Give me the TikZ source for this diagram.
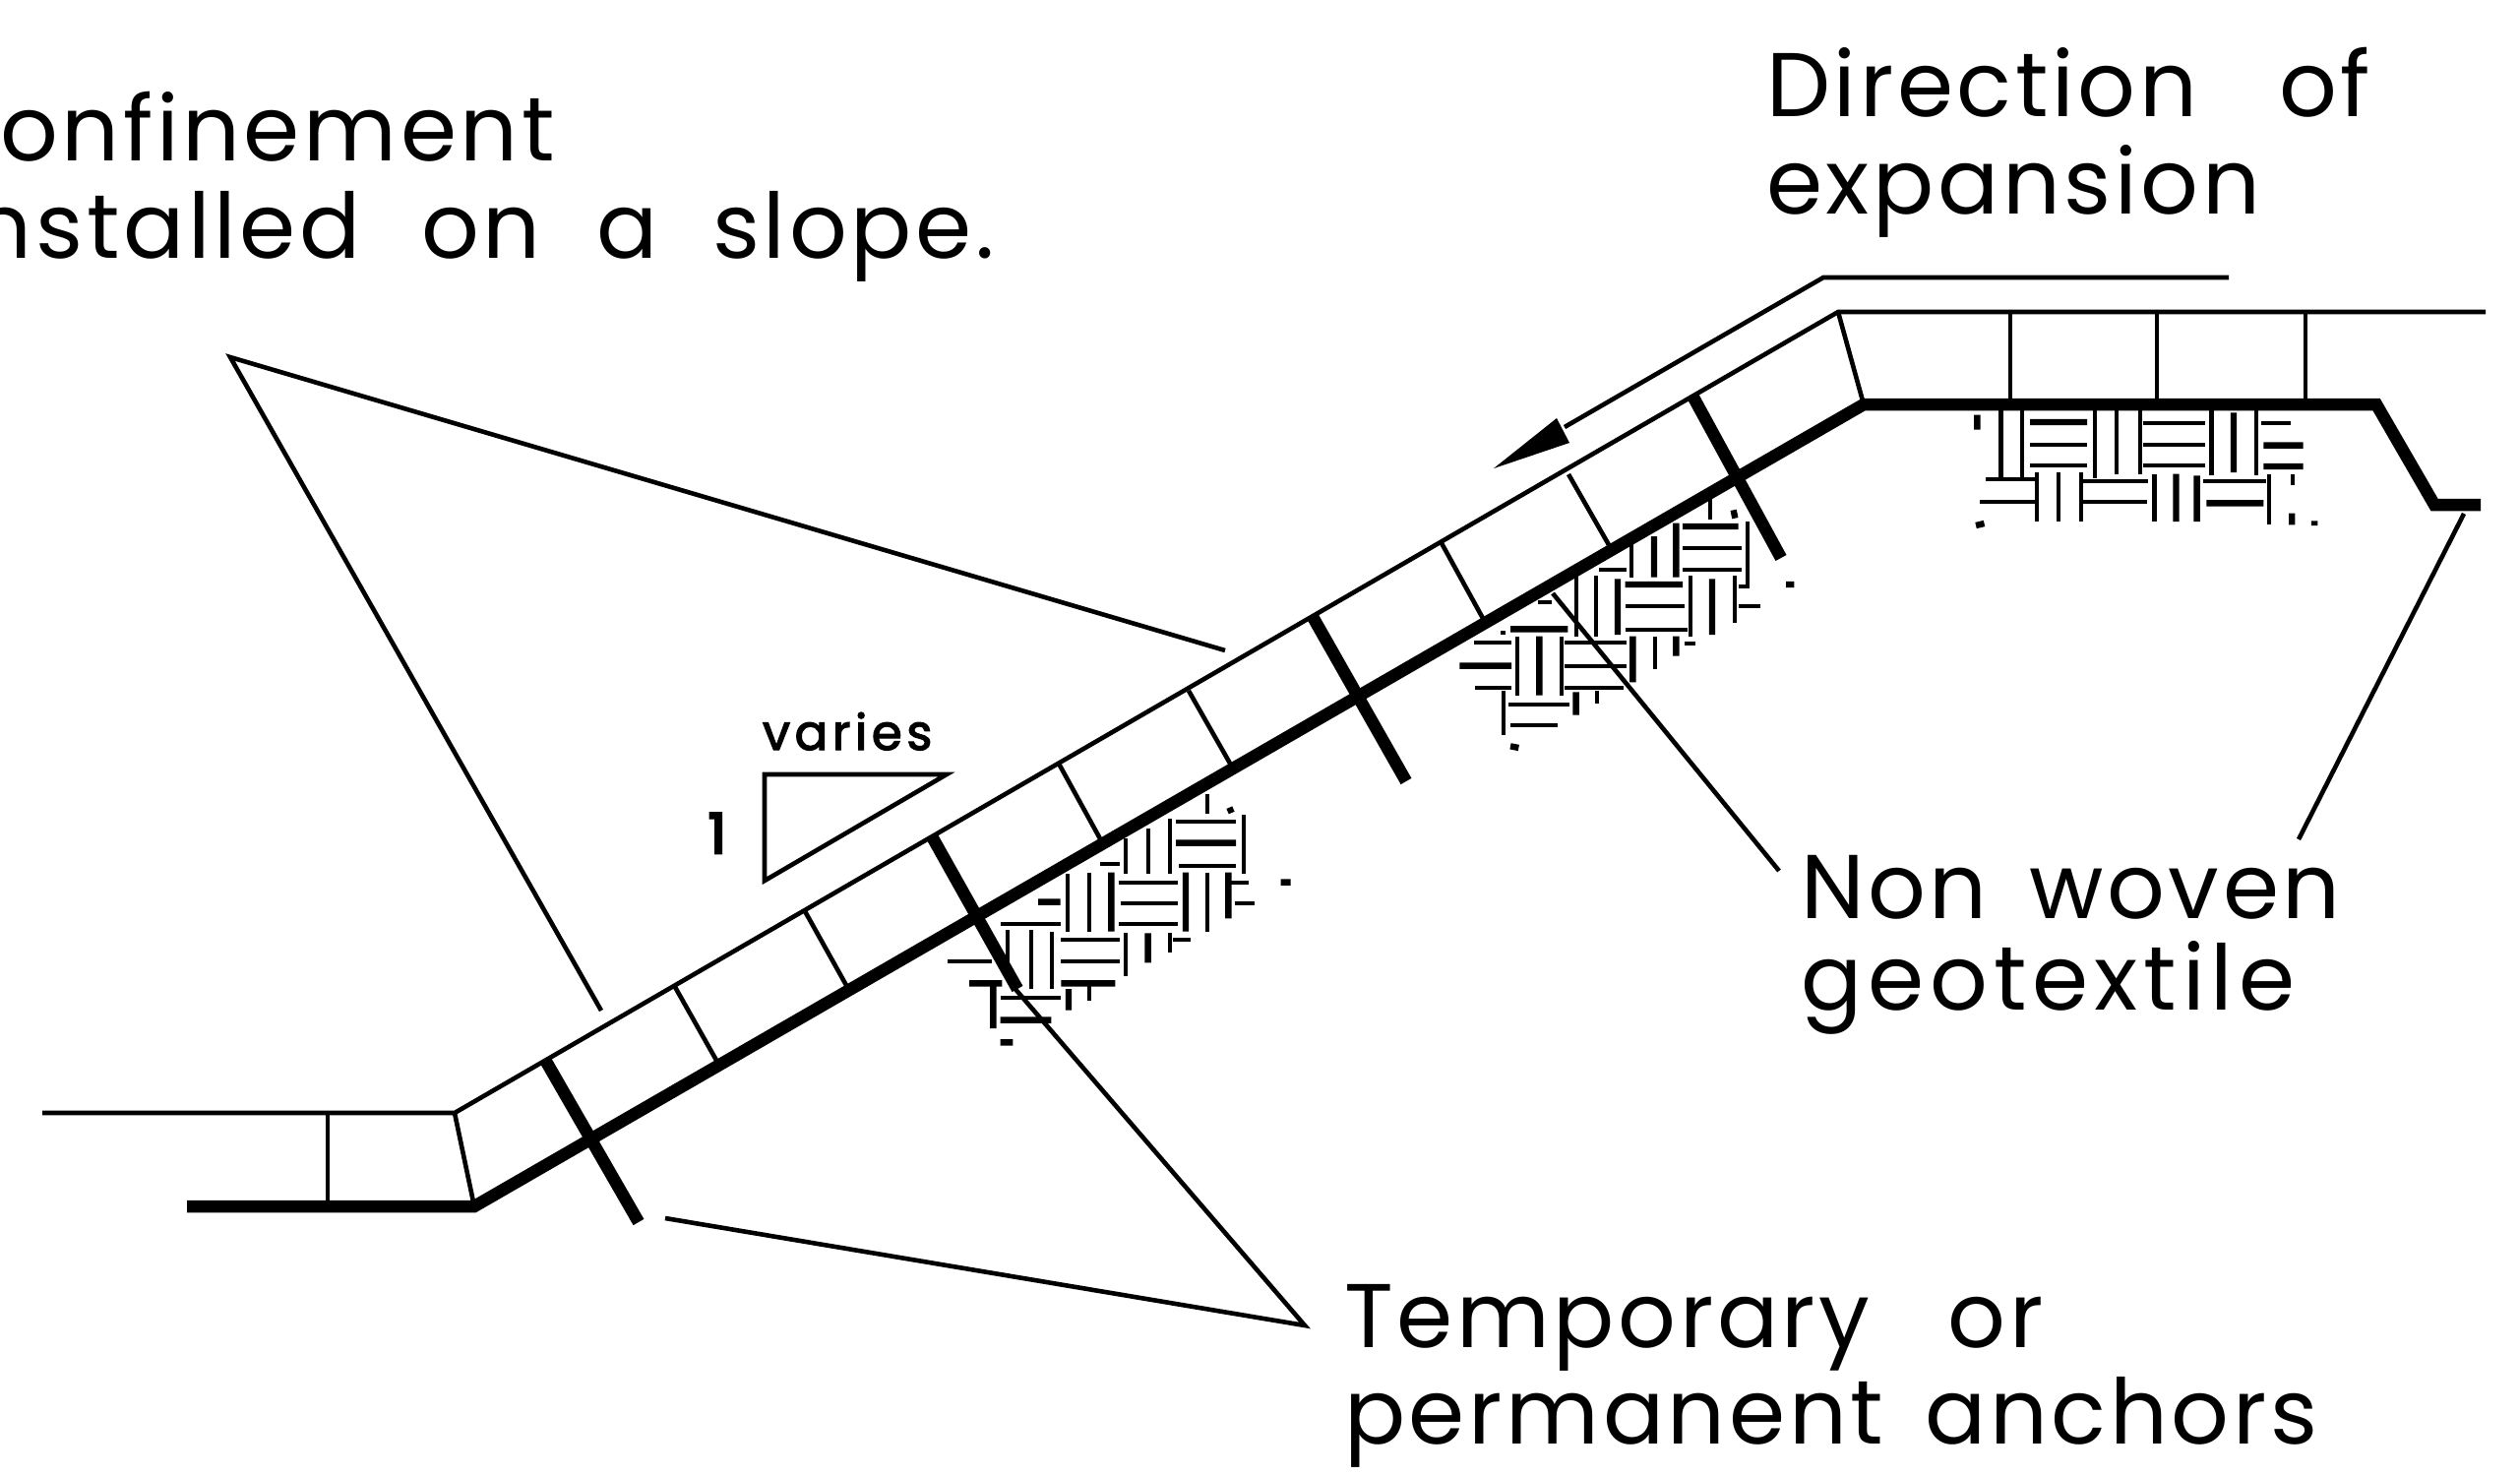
\documentclass[tikz,border=0pt]{standalone}
\usepackage{fontspec}
\newfontfamily\cad[LetterSpace=4]{Poppins}
\newfontfamily\cadwide[LetterSpace=6.5]{Poppins}
\newfontfamily\cadsmall[LetterSpace=9,FakeBold=2.5]{Poppins}
\newfontfamily\cadone[FakeBold=5]{Poppins}
\newcommand{\wgap}[1]{\hspace{#1pt}}
\tikzset{
  thin line/.style={draw=black,line width=4.6pt,line cap=butt,line join=miter},
  heavy line/.style={draw=black,line width=12.5pt,line cap=butt,line join=miter,miter limit=10},
  hatch thin/.style={draw=black,line width=4.2pt},
  hatch bold/.style={draw=black,line width=6.4pt},
  big label/.style={inner sep=0pt,outer sep=0pt,anchor=base west,font=\cad\fontsize{92}{92}\selectfont},
  wide label/.style={inner sep=0pt,outer sep=0pt,anchor=base west,font=\cadwide\fontsize{92}{92}\selectfont},
  small label/.style={inner sep=0pt,outer sep=0pt,anchor=base west,font=\cadsmall\fontsize{50}{50}\selectfont},
  one label/.style={inner sep=0pt,outer sep=0pt,anchor=base west,font=\cadone\fontsize{56}{56}\selectfont}
}
\begin{document}
\begin{tikzpicture}[x=1pt,y=-1pt]
\useasboundingbox (0,0) rectangle (2561,1499);
\fill[white] (0,0) rectangle (2561,1499);

% geomat outline
\draw[thin line] (43,1131) -- (462,1131) -- (1868,317) -- (2526,317);
\draw[thin line] (462,1131) -- (482,1226);
\draw[thin line] (1868,317) -- (1894,411);
\draw[thin line] (333,1131) -- (333,1226);
\draw[thin line] (686,1003) -- (730,1081);
\draw[thin line] (818,926) -- (861,1003);
\draw[thin line] (1076,776) -- (1120,856);
\draw[thin line] (1208,702) -- (1253,781);
\draw[thin line] (1465,552) -- (1509,632);
\draw[thin line] (1594,482) -- (1638,559);
\draw[thin line] (2043,317) -- (2043,411);
\draw[thin line] (2192,317) -- (2192,411);
\draw[thin line] (2343,317) -- (2343,411);

% subgrade
\draw[heavy line] (190,1226) -- (482,1226) -- (1894,411) -- (2415,411) -- (2474,513) -- (2521,513);

% anchors
\draw[heavy line] (554,1077) -- (649,1242);
\draw[heavy line] (947,850) -- (1034,1005);
\draw[heavy line] (1333,625) -- (1429,794);
\draw[heavy line] (1720,402) -- (1810,567);

% soil hatch, lower cluster
\begin{scope}[shift={(950pt,-800pt)},x=0.33333pt,y=-0.33333pt]
\draw[hatch thin] (830,20)--(830,80) (943,85)--(943,265)
 (735,105)--(918,105) (745,240)--(918,240) (505,233)--(565,233)
 (583,155)--(583,265) (650,125)--(650,265) (718,95)--(718,265)
 (560,290)--(742,290) (568,353)--(742,353) (560,418)--(742,418)
 (405,265)--(405,440) (470,260)--(470,440) (830,260)--(830,440)
 (900,290)--(958,290) (915,353)--(975,353)
 (200,418)--(383,418) (385,465)--(565,465) (385,530)--(565,530) (725,465)--(780,465)
 (222,435)--(222,540) (295,435)--(295,615) (358,440)--(358,615) (583,445)--(583,575) (718,445)--(718,505)
 (40,530)--(175,530) (200,642)--(385,642) (470,605)--(470,650);
\draw[hatch bold] (898,62)--(905,78) (735,170)--(918,170) (538,260)--(538,440) (765,260)--(765,440) (895,260)--(895,400)
 (1055,290)--(1085,290) (315,350)--(383,350) (385,598)--(550,598) (650,445)--(650,535)
 (105,598)--(205,598) (200,710)--(355,710) (200,778)--(238,778) (178,600)--(178,735) (408,615)--(408,680);
\end{scope}

% soil hatch, middle cluster
\begin{scope}[shift={(1450pt,-450pt)},x=0.33333pt,y=-0.33333pt]
\draw[hatch thin] (865,170)--(865,235) (978,240)--(978,440) (625,310)--(625,410)
 (780,322)--(960,322) (780,388)--(960,388) (525,388)--(610,388)
 (605,498)--(785,498) (605,570)--(795,570)
 (457,405)--(457,590) (515,405)--(515,592) (805,405)--(805,590) (938,405)--(938,550)
 (950,437)--(985,437) (950,498)--(1018,498) (340,485)--(380,485)
 (225,580)--(240,580) (145,610)--(258,610) (148,748)--(258,748)
 (275,590)--(275,770) (410,590)--(410,770)
 (420,610)--(610,610) (420,680)--(610,680) (420,748)--(600,748)
 (697,590)--(697,690) (785,612)--(818,612)
 (250,797)--(435,797) (255,860)--(400,860) (235,755)--(235,890) (518,755)--(518,795);
\draw[hatch bold] (935,205)--(940,230) (693,285)--(693,410) (760,245)--(760,410)
 (780,255)--(950,255) (605,432)--(780,432) (582,415)--(582,585) (870,415)--(870,585)
 (1095,432)--(1120,432) (255,568)--(430,568) (100,680)--(258,680) (343,590)--(343,770)
 (628,590)--(628,730) (760,590)--(760,650) (455,760)--(455,830) (255,925)--(280,930);
\end{scope}

% soil hatch, upper cluster
\begin{scope}[shift={(1900pt,-280pt)},x=0.42373pt,y=-0.33333pt]
\draw[hatch thin] (315,410)--(315,618) (365,410)--(365,618) (540,410)--(540,618) (592,410)--(592,605) (648,410)--(648,605)
 (820,410)--(820,608) (928,410)--(928,608)
 (385,515)--(522,515) (385,578)--(522,578) (655,450)--(805,450) (655,515)--(805,515) (655,578)--(805,578) (940,450)--(1010,450)
 (278,622)--(400,622) (265,690)--(400,690) (512,627)--(668,627) (512,690)--(665,690) (800,627)--(950,627)
 (402,600)--(402,750) (453,600)--(453,750) (507,600)--(507,750) (683,605)--(683,750) (958,605)--(958,760) (1015,605)--(1015,640);
\draw[hatch bold] (258,425)--(258,470) (873,418)--(873,600) (385,447)--(522,447) (945,518)--(1040,518) (945,582)--(1040,582)
 (808,694)--(945,694) (735,605)--(735,750) (785,610)--(785,750) (1013,725)--(1013,760) (1067,748)--(1067,762) (255,762)--(275,756);
\end{scope}

% leaders
\coordinate (apexA) at (234,363);
\coordinate (endA1) at (611,1027);
\coordinate (endA2) at (1245,661);
\coordinate (apexB) at (1326,1347);
\coordinate (endB1) at (676,1238);
\coordinate (endB2) at (1030,1003);
\coordinate (startC) at (1808,885);
\coordinate (endC) at (1578,603);
\coordinate (startD) at (2336,853);
\coordinate (endD) at (2504,522);
\draw[thin line] (endA1) -- (apexA) -- (endA2);
\draw[thin line] (endB1) -- (apexB) -- (endB2);
\draw[thin line] (startC) -- (endC);
\draw[thin line] (startD) -- (endD);

% direction arrow
\coordinate (arrowEnd) at (2265,282);
\coordinate (arrowKnee) at (1853,282);
\coordinate (arrowBase) at (1590,434);
\draw[thin line] (arrowEnd) -- (arrowKnee) -- (arrowBase);
\fill[black] (1518,476) -- (1582,425) -- (1595,450) -- cycle;

% slope triangle
\draw[thin line] (777,787) -- (962,787) -- (777,895) -- cycle;

% labels
\node[big label] (t1) at (0,163) {onfinement};
\node[big label] (t2) at (-26,262) {nstalled \wgap{33}on \wgap{29}a \wgap{27}slope.};
\node[big label] (t3) at (1795,118) {Direction \wgap{55}of};
\node[big label] (t4) at (1795,217) {expansion};
\node[big label] (t5) at (1830,933) {Non \wgap{14}woven};
\node[wide label] (t6) at (1830,1026) {geotextile};
\node[big label] (t7) at (1366,1369) {Temporary \wgap{51}or};
\node[big label] (t8) at (1366,1467) {permanent \wgap{14}anchors};
\node[small label] (t9) at (775,762) {varies};
\node[one label] (t10) at (720,867) {1};
\end{tikzpicture}
\end{document}
